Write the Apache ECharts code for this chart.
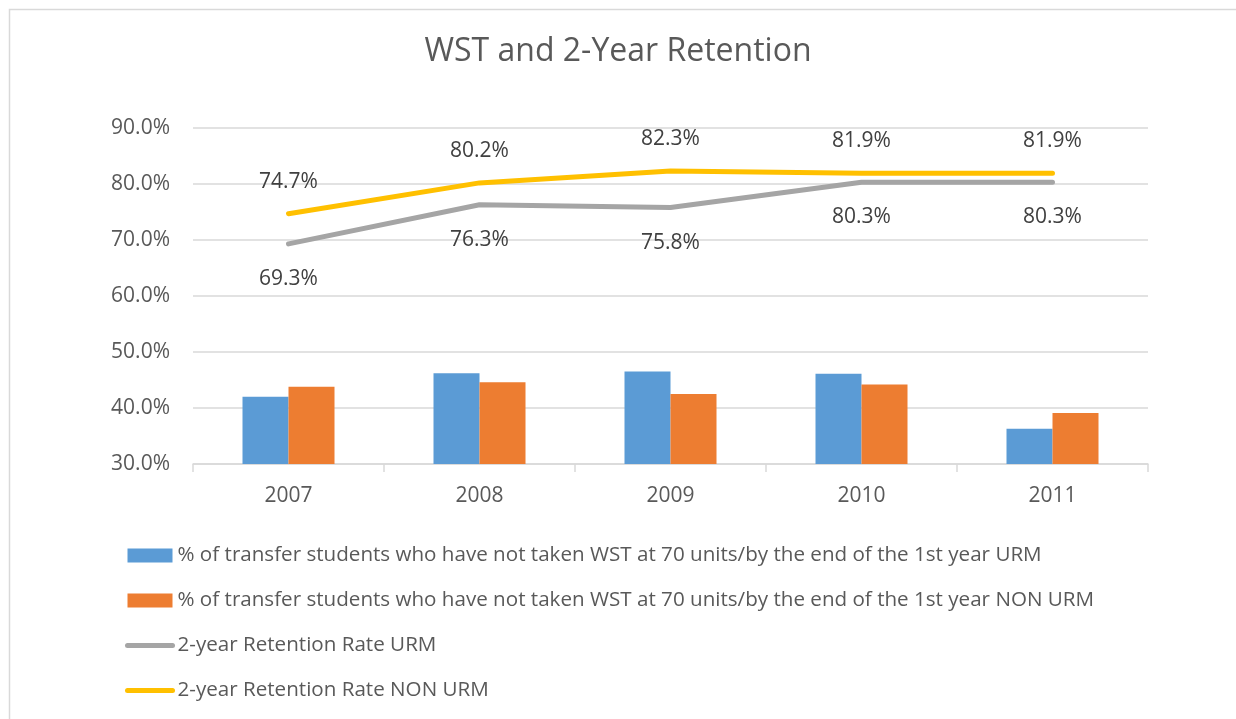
<!DOCTYPE html>
<html>
<head>
<meta charset="utf-8">
<script src="https://cdn.jsdelivr.net/npm/echarts@6/dist/echarts.min.js"></script>
<style>html,body{margin:0;padding:0;background:#fff}#c{width:1236px;height:719px}</style>
</head>
<body>
<div id="c"></div>
<script>
const categories = ['2007', '2008', '2009', '2010', '2011'];
const seriesNames = [
  '% of transfer students who have not taken WST at 70 units/by the end of the 1st year URM',
  '% of transfer students who have not taken WST at 70 units/by the end of the 1st year NON URM',
  '2-year Retention Rate URM',
  '2-year Retention Rate NON URM'
];
const wstURM = [42.0, 46.2, 46.5, 46.1, 36.3];
const wstNonURM = [43.8, 44.6, 42.5, 44.2, 39.1];
const retURM = [69.3, 76.3, 75.8, 80.3, 80.3];
const retNonURM = [74.7, 80.2, 82.3, 81.9, 81.9];
const yTicks = { min: 30, max: 90, interval: 10 };

const FONT = 'Open Sans';
const chart = echarts.init(document.getElementById('c'), null, { renderer: 'canvas' });
chart.setOption({
  animation: false,
  backgroundColor: '#fff',
  graphic: [{
    type: 'rect', left: 7, top: 7, silent: true,
    shape: { width: 1260, height: 740 },
    style: { fill: 'none', stroke: '#D9D9D9', lineWidth: 1.5 }
  }],
  title: {
    text: 'WST and 2-Year Retention', left: 'center', top: 31,
    textStyle: { fontFamily: FONT, fontSize: 32, fontWeight: 'normal', color: '#595959' }
  },
  grid: { left: 193, right: 88, top: 128, bottom: 255, containLabel: false },
  legend: {
    orient: 'vertical', left: 125, top: 545, itemGap: 24, padding: 0,
    itemWidth: 45, itemHeight: 14,
    textStyle: { fontFamily: FONT, fontSize: 20.6, color: '#595959', lineHeight: 21 },
    data: [
      { name: seriesNames[0], icon: 'rect' },
      { name: seriesNames[1], icon: 'rect' },
      { name: seriesNames[2], itemStyle: { opacity: 0 }, lineStyle: { width: 5, cap: 'round' } },
      { name: seriesNames[3], itemStyle: { opacity: 0 }, lineStyle: { width: 5, cap: 'round' } }
    ]
  },
  xAxis: {
    type: 'category', data: categories,
    axisLine: { lineStyle: { color: '#D9D9D9', width: 1.5 } },
    axisTick: { show: true, length: 8, lineStyle: { color: '#D9D9D9', width: 1.5 } },
    axisLabel: { fontFamily: FONT, fontSize: 21, color: '#595959', margin: 22 }
  },
  yAxis: {
    type: 'value', min: yTicks.min, max: yTicks.max, interval: yTicks.interval,
    axisLine: { show: false }, axisTick: { show: false },
    splitLine: { lineStyle: { color: '#D9D9D9', width: 1.5 } },
    axisLabel: { fontFamily: FONT, fontSize: 21, color: '#595959', margin: 23,
      formatter: v => v.toFixed(1) + '%' }
  },
  series: [
    { name: seriesNames[0], type: 'bar', data: wstURM, barWidth: 46, barGap: '0%',
      itemStyle: { color: '#5B9BD5' } },
    { name: seriesNames[1], type: 'bar', data: wstNonURM, barWidth: 46, barGap: '0%',
      itemStyle: { color: '#ED7D31' } },
    { name: seriesNames[2], type: 'line', data: retURM, symbol: 'circle', symbolSize: 1, showSymbol: true,
      itemStyle: { color: '#A5A5A5' }, lineStyle: { color: '#A5A5A5', width: 5, cap: 'round', join: 'round' },
      label: { show: true, position: 'bottom', distance: 24, fontFamily: FONT, fontSize: 21, color: '#404040',
        formatter: p => p.value.toFixed(1) + '%' } },
    { name: seriesNames[3], type: 'line', data: retNonURM, symbol: 'circle', symbolSize: 1, showSymbol: true,
      itemStyle: { color: '#FFC000' }, lineStyle: { color: '#FFC000', width: 5, cap: 'round', join: 'round' },
      label: { show: true, position: 'top', distance: 21, fontFamily: FONT, fontSize: 21, color: '#404040',
        formatter: p => p.value.toFixed(1) + '%' } }
  ]
});
</script>
</body>
</html>
